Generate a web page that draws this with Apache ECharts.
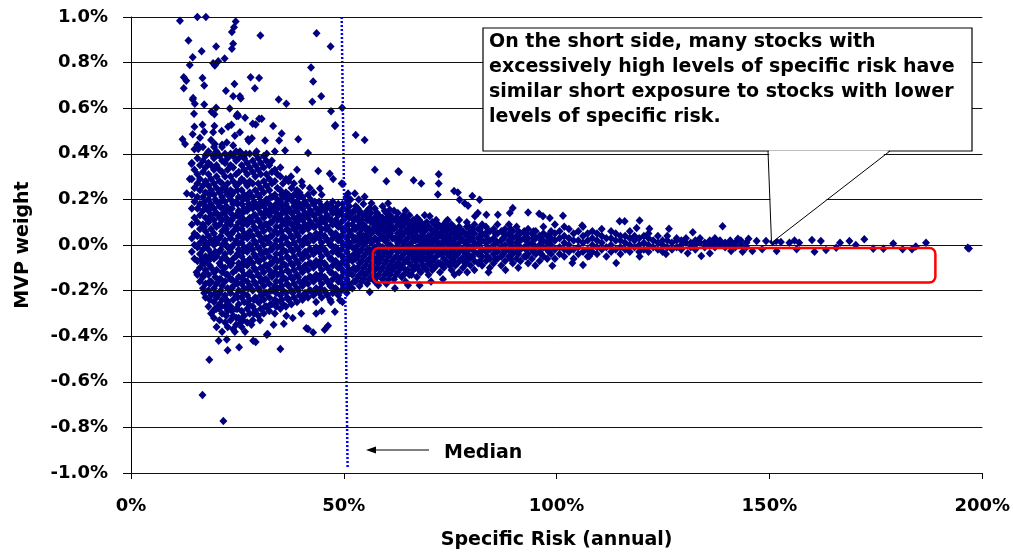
<!DOCTYPE html>
<html>
<head>
<meta charset="utf-8">
<script src="https://cdn.jsdelivr.net/npm/echarts@6/dist/echarts.min.js"></script>
<style>
  html, body { margin: 0; padding: 0; background: #fff; }
  #chart { width: 1013px; height: 555px; }
</style>
</head>
<body>
<div id="chart"></div>
<script>
// Specific risk (annual, %) vs. minimum-variance portfolio weight (%)

// Low-risk cluster: [specific risk, [weights...]]
const clusterLow = [
  [14.3, [-0.03, 0.03, 0.09, 0.16, 0.22, 0.29, 0.36]],
  [14.9, [-0.06, 0.00, 0.05, 0.12, 0.19, 0.25, 0.33, 0.42]],
  [15.6, [-0.13, -0.07, -0.01, 0.04, 0.10, 0.16, 0.21, 0.27, 0.31, 0.38, 0.44]],
  [16.2, [-0.16, -0.10, -0.04, 0.01, 0.07, 0.13, 0.18, 0.24, 0.29, 0.35, 0.47]],
  [16.9, [-0.19, -0.14, -0.08, -0.02, 0.03, 0.09, 0.15, 0.21, 0.26, 0.32, 0.37, 0.43]],
  [17.5, [-0.23, -0.17, -0.11, -0.05, 0.00, 0.06, 0.12, 0.17, 0.23, 0.28, 0.34, 0.39]],
  [18.2, [-0.27, -0.20, -0.13, -0.07, -0.02, 0.04, 0.10, 0.15, 0.20, 0.26, 0.31, 0.36, 0.41]],
  [18.8, [-0.30, -0.22, -0.16, -0.10, -0.04, 0.02, 0.07, 0.13, 0.18, 0.24, 0.29, 0.35, 0.46]],
  [19.5, [-0.32, -0.25, -0.19, -0.12, -0.06, 0.00, 0.05, 0.11, 0.16, 0.22, 0.27, 0.33, 0.38, 0.43]],
  [20.1, [-0.36, -0.28, -0.23, -0.17, -0.11, -0.05, 0.01, 0.08, 0.14, 0.19, 0.25, 0.30, 0.35, 0.41]],
  [20.8, [-0.33, -0.26, -0.21, -0.15, -0.08, -0.03, 0.03, 0.09, 0.12, 0.17, 0.23, 0.28, 0.33, 0.39]],
  [21.4, [-0.38, -0.30, -0.24, -0.18, -0.12, -0.06, 0.00, 0.06, 0.11, 0.16, 0.21, 0.27, 0.32, 0.37, 0.44]],
  [22.1, [-0.34, -0.27, -0.22, -0.16, -0.10, -0.04, 0.02, 0.08, 0.14, 0.19, 0.25, 0.30, 0.36, 0.40]],
  [22.7, [-0.36, -0.29, -0.25, -0.19, -0.13, -0.07, -0.01, 0.05, 0.10, 0.16, 0.22, 0.27, 0.33, 0.38]],
  [23.4, [-0.33, -0.27, -0.21, -0.15, -0.09, -0.03, 0.03, 0.09, 0.14, 0.20, 0.24, 0.30, 0.35, 0.40]],
  [24.0, [-0.37, -0.31, -0.24, -0.18, -0.12, -0.06, 0.00, 0.06, 0.12, 0.18, 0.23, 0.28, 0.34, 0.39]],
  [24.7, [-0.35, -0.28, -0.22, -0.16, -0.11, -0.05, 0.02, 0.08, 0.13, 0.19, 0.26, 0.31, 0.37, 0.41]],
  [25.3, [-0.32, -0.26, -0.20, -0.14, -0.08, -0.02, 0.04, 0.10, 0.15, 0.21, 0.27, 0.32, 0.38]],
  [26.0, [-0.36, -0.29, -0.23, -0.17, -0.11, -0.05, 0.01, 0.07, 0.12, 0.18, 0.24, 0.29, 0.35, 0.40]],
  [26.6, [-0.31, -0.25, -0.19, -0.13, -0.07, -0.01, 0.05, 0.11, 0.16, 0.22, 0.28, 0.33, 0.38]],
  [27.3, [-0.34, -0.28, -0.22, -0.16, -0.09, -0.03, 0.03, 0.09, 0.15, 0.20, 0.26, 0.31, 0.36]],
  [27.9, [-0.30, -0.24, -0.18, -0.12, -0.06, 0.00, 0.06, 0.12, 0.17, 0.23, 0.28, 0.34, 0.40]],
  [28.6, [-0.33, -0.27, -0.20, -0.14, -0.08, -0.02, 0.04, 0.10, 0.16, 0.21, 0.27, 0.32, 0.37]],
  [29.2, [-0.29, -0.23, -0.17, -0.11, -0.05, 0.01, 0.07, 0.13, 0.18, 0.24, 0.30, 0.35, 0.40]],
  [29.9, [-0.31, -0.25, -0.19, -0.13, -0.07, -0.01, 0.05, 0.11, 0.16, 0.22, 0.27, 0.33, 0.38]],
  [30.5, [-0.28, -0.22, -0.16, -0.10, -0.04, 0.02, 0.08, 0.14, 0.19, 0.25, 0.31, 0.36]],
  [31.2, [-0.30, -0.24, -0.18, -0.12, -0.06, 0.00, 0.06, 0.12, 0.17, 0.23, 0.28, 0.34, 0.39]],
  [31.8, [-0.27, -0.21, -0.15, -0.09, -0.03, 0.03, 0.09, 0.15, 0.20, 0.26, 0.31, 0.37]],
  [32.5, [-0.29, -0.23, -0.17, -0.11, -0.05, 0.01, 0.07, 0.13, 0.18, 0.24, 0.29, 0.35]],
  [33.1, [-0.26, -0.20, -0.14, -0.08, -0.02, 0.04, 0.10, 0.15, 0.21, 0.27, 0.32, 0.37]],
  [33.8, [-0.30, -0.24, -0.18, -0.12, -0.06, 0.00, 0.06, 0.12, 0.17, 0.22, 0.28, 0.33]],
  [34.4, [-0.25, -0.19, -0.13, -0.07, -0.01, 0.05, 0.11, 0.16, 0.20, 0.25, 0.31]],
  [35.1, [-0.28, -0.22, -0.16, -0.10, -0.04, 0.02, 0.08, 0.13, 0.19, 0.24, 0.30, 0.34]],
  [35.7, [-0.26, -0.20, -0.14, -0.08, -0.02, 0.04, 0.10, 0.15, 0.21, 0.27]],
  [36.4, [-0.27, -0.21, -0.15, -0.09, -0.03, 0.03, 0.09, 0.14, 0.18, 0.23, 0.29]],
  [37.0, [-0.24, -0.18, -0.12, -0.06, 0.00, 0.06, 0.11, 0.16, 0.22, 0.28]],
  [37.7, [-0.26, -0.20, -0.14, -0.08, -0.02, 0.04, 0.09, 0.14, 0.20, 0.25]],
  [38.3, [-0.23, -0.17, -0.11, -0.05, 0.01, 0.07, 0.12, 0.17, 0.22, 0.27]],
  [39.0, [-0.25, -0.19, -0.13, -0.07, -0.01, 0.05, 0.10, 0.15, 0.19, 0.24]],
  [39.6, [-0.22, -0.16, -0.10, -0.04, 0.02, 0.08, 0.13, 0.18, 0.23]],
  [40.3, [-0.24, -0.18, -0.12, -0.06, 0.00, 0.06, 0.11, 0.16, 0.21, 0.26]],
  [40.9, [-0.21, -0.15, -0.09, -0.03, 0.03, 0.09, 0.14, 0.19]],
  [41.6, [-0.23, -0.17, -0.11, -0.05, 0.01, 0.07, 0.12, 0.17, 0.22]],
  [42.2, [-0.20, -0.14, -0.08, -0.02, 0.04, 0.10, 0.15, 0.20]],
  [42.9, [-0.22, -0.16, -0.10, -0.04, 0.02, 0.08, 0.13, 0.18, 0.23]],
  [43.5, [-0.25, -0.19, -0.13, -0.07, -0.01, 0.05, 0.11, 0.16]],
  [44.2, [-0.21, -0.15, -0.09, -0.03, 0.03, 0.09, 0.14, 0.19]],
  [44.8, [-0.23, -0.17, -0.11, -0.05, 0.01, 0.07, 0.12, 0.17, 0.22]],
  [45.5, [-0.20, -0.14, -0.08, -0.02, 0.04, 0.10, 0.15]],
  [46.1, [-0.22, -0.16, -0.10, -0.04, 0.02, 0.08, 0.13, 0.18]],
  [46.8, [-0.24, -0.18, -0.12, -0.06, 0.00, 0.06, 0.11, 0.16]],
  [47.4, [-0.21, -0.15, -0.09, -0.03, 0.03, 0.09, 0.14, 0.19]],
  [48.1, [-0.19, -0.13, -0.07, -0.01, 0.05, 0.11, 0.16]],
  [48.7, [-0.22, -0.16, -0.10, -0.04, 0.02, 0.08, 0.13, 0.18]],
  [49.4, [-0.20, -0.14, -0.08, -0.02, 0.04, 0.10, 0.15]],
  [50.0, [-0.18, -0.12, -0.06, 0.00, 0.06, 0.11, 0.16]],
  [50.7, [-0.21, -0.15, -0.09, -0.03, 0.03, 0.08, 0.13, 0.19]],
  [51.3, [-0.17, -0.11, -0.05, 0.01, 0.06, 0.12, 0.17]],
  [52.0, [-0.19, -0.13, -0.07, -0.01, 0.04, 0.09, 0.14]]
];

// Heart of the cluster and the start of the band, between the columns above
const clusterCore = [
  [17.2, [-0.21, -0.13, -0.08, 0.02, 0.08, 0.19]],
  [18.5, [-0.24, -0.17, -0.09, -0.05, 0.01, 0.12, 0.17, 0.22]],
  [19.8, [-0.28, -0.21, -0.14, -0.03, 0.03, 0.09, 0.14, 0.20]],
  [21.1, [-0.27, -0.20, -0.15, -0.09, -0.02, 0.04, 0.13, 0.19, 0.24]],
  [22.4, [-0.31, -0.24, -0.13, -0.06, 0.00, 0.07, 0.12, 0.17, 0.23]],
  [23.7, [-0.29, -0.19, -0.15, -0.08, -0.01, 0.05, 0.11, 0.16, 0.22]],
  [25.0, [-0.28, -0.23, -0.17, -0.10, -0.04, 0.01, 0.07, 0.13, 0.18, 0.24]],
  [26.3, [-0.33, -0.21, -0.15, -0.09, -0.03, 0.03, 0.09, 0.14, 0.20]],
  [27.6, [-0.26, -0.19, -0.13, -0.07, -0.01, 0.04, 0.11, 0.18, 0.22]],
  [28.9, [-0.30, -0.24, -0.16, -0.10, -0.04, 0.02, 0.08, 0.13, 0.19]],
  [30.2, [-0.25, -0.20, -0.14, -0.07, -0.02, 0.04, 0.10, 0.17, 0.21]],
  [31.5, [-0.27, -0.21, -0.15, -0.09, -0.03, 0.03, 0.09, 0.14, 0.19]],
  [32.8, [-0.26, -0.20, -0.13, -0.08, -0.02, 0.04, 0.10, 0.16, 0.21]],
  [34.1, [-0.27, -0.21, -0.16, -0.10, -0.04, 0.02, 0.08, 0.14, 0.18]],
  [35.4, [-0.24, -0.18, -0.12, -0.06, 0.00, 0.06, 0.11, 0.17, 0.22]],
  [36.7, [-0.23, -0.17, -0.11, -0.05, 0.01, 0.07, 0.12, 0.16, 0.20]],
  [38.0, [-0.21, -0.15, -0.09, -0.03, 0.03, 0.09, 0.14, 0.19]],
  [39.3, [-0.20, -0.14, -0.08, -0.02, 0.04, 0.08, 0.12, 0.17, 0.21]],
  [40.6, [-0.22, -0.16, -0.10, -0.04, 0.02, 0.08, 0.13, 0.18]],
  [41.9, [-0.20, -0.14, -0.08, -0.02, 0.04, 0.09, 0.14]],
  [43.2, [-0.21, -0.15, -0.09, -0.03, 0.03, 0.08, 0.13, 0.19]],
  [44.5, [-0.19, -0.13, -0.07, -0.01, 0.05, 0.10, 0.15]],
  [45.8, [-0.21, -0.15, -0.09, -0.03, 0.03, 0.07, 0.12, 0.16]],
  [47.1, [-0.18, -0.12, -0.06, 0.00, 0.05, 0.11, 0.17]],
  [48.4, [-0.20, -0.14, -0.08, -0.02, 0.04, 0.09, 0.14]],
  [49.7, [-0.17, -0.11, -0.05, 0.01, 0.07, 0.13, 0.18]],
  [51.0, [-0.19, -0.13, -0.07, -0.01, 0.04, 0.09, 0.15]],
  [52.4, [-0.16, -0.10, -0.04, 0.02, 0.07, 0.11, 0.15]],
  [53.3, [-0.14, -0.10, -0.05, 0.00, 0.03, 0.08, 0.12, 0.16]],
  [54.2, [-0.16, -0.12, -0.07, -0.02, 0.02, 0.07, 0.11]],
  [55.1, [-0.13, -0.09, -0.04, 0.01, 0.04, 0.08, 0.13]],
  [56.0, [-0.15, -0.11, -0.06, -0.02, 0.03, 0.07, 0.12, 0.16]],
  [56.9, [-0.13, -0.08, -0.03, 0.02, 0.06, 0.10]],
  [57.8, [-0.14, -0.10, -0.06, -0.02, 0.02, 0.07, 0.11, 0.14]],
  [58.7, [-0.11, -0.06, -0.02, 0.03, 0.07, 0.11]],
  [59.6, [-0.13, -0.08, -0.03, 0.02, 0.06, 0.10, 0.15]],
  [60.5, [-0.15, -0.10, -0.05, 0.00, 0.04, 0.08, 0.12]],
  [61.4, [-0.11, -0.07, -0.02, 0.03, 0.07, 0.11]],
  [62.3, [-0.13, -0.09, -0.05, -0.01, 0.03, 0.08, 0.12]],
  [63.2, [-0.10, -0.06, -0.02, 0.02, 0.06, 0.10]],
  [64.1, [-0.13, -0.08, -0.04, 0.01, 0.05, 0.09, 0.13]],
  [65.0, [-0.11, -0.06, -0.02, 0.03, 0.07, 0.11]],
  [65.9, [-0.13, -0.09, -0.04, 0.01, 0.05, 0.09]],
  [66.8, [-0.10, -0.07, -0.03, 0.02, 0.06, 0.10]],
  [67.7, [-0.11, -0.05, -0.01, 0.03, 0.08, 0.11]],
  [68.6, [-0.09, -0.04, 0.00, 0.04, 0.08]],
  [69.5, [-0.11, -0.06, -0.02, 0.02, 0.07, 0.10]],
  [70.4, [-0.09, -0.05, -0.01, 0.03, 0.07]],
  [71.3, [-0.10, -0.06, -0.02, 0.02, 0.05, 0.09]],
  [72.2, [-0.08, -0.03, 0.01, 0.05, 0.09]],
  [73.1, [-0.09, -0.04, 0.00, 0.04, 0.07]],
  [74.0, [-0.07, -0.03, 0.02, 0.06, 0.09]],
  [74.9, [-0.09, -0.05, -0.01, 0.03, 0.07]],
  [75.8, [-0.07, -0.03, 0.01, 0.05, 0.08]],
  [76.7, [-0.08, -0.04, 0.00, 0.04, 0.06]],
  [77.6, [-0.06, -0.02, 0.03, 0.06]],
  [78.5, [-0.08, -0.04, 0.01, 0.05]],
  [79.4, [-0.06, -0.02, 0.02, 0.05, 0.08]],
  [80.3, [-0.05, -0.01, 0.03, 0.07]],
  [82.0, [-0.07, -0.03, 0.01, 0.04, 0.07]],
  [83.8, [-0.05, -0.01, 0.02, 0.06]],
  [85.6, [-0.06, -0.02, 0.02, 0.05]],
  [87.4, [-0.04, -0.01, 0.03, 0.06]],
  [89.2, [-0.06, -0.02, 0.01, 0.04, 0.07]],
  [91.0, [-0.04, 0.00, 0.03, 0.06]],
  [92.8, [-0.05, -0.02, 0.02, 0.05]],
  [94.6, [-0.03, 0.00, 0.03, 0.06]],
  [96.4, [-0.04, -0.01, 0.02, 0.04]],
  [98.2, [-0.03, 0.01, 0.04]]
];

// Band of mid-risk stocks (53% - 100%)
const bandMid = [
  [52.8, [-0.16, -0.11, -0.06, -0.02, 0.03, 0.07, 0.12, 0.17]],
  [53.7, [-0.18, -0.13, -0.08, -0.03, 0.01, 0.05, 0.10, 0.14]],
  [54.6, [-0.15, -0.10, -0.05, 0.00, 0.04, 0.09, 0.13, 0.18]],
  [55.5, [-0.17, -0.12, -0.07, -0.02, 0.02, 0.06, 0.11, 0.15]],
  [56.4, [-0.14, -0.09, -0.04, 0.01, 0.05, 0.10, 0.14]],
  [57.3, [-0.16, -0.11, -0.06, -0.01, 0.03, 0.08, 0.12, 0.16]],
  [58.2, [-0.13, -0.08, -0.04, 0.00, 0.05, 0.09, 0.13]],
  [59.1, [-0.15, -0.10, -0.05, -0.01, 0.04, 0.08, 0.12, 0.17]],
  [60.0, [-0.17, -0.12, -0.07, -0.03, 0.02, 0.06, 0.10, 0.14]],
  [60.9, [-0.13, -0.09, -0.04, 0.00, 0.05, 0.09, 0.13]],
  [61.8, [-0.15, -0.10, -0.06, -0.02, 0.03, 0.07, 0.11, 0.15]],
  [62.7, [-0.12, -0.08, -0.03, 0.01, 0.05, 0.10, 0.14]],
  [63.6, [-0.14, -0.10, -0.05, -0.01, 0.04, 0.08, 0.12]],
  [64.5, [-0.16, -0.11, -0.07, -0.02, 0.02, 0.06, 0.11, 0.15]],
  [65.4, [-0.13, -0.08, -0.04, 0.00, 0.05, 0.09, 0.13]],
  [66.3, [-0.11, -0.06, -0.02, 0.03, 0.07, 0.11]],
  [67.2, [-0.14, -0.09, -0.05, -0.01, 0.04, 0.08, 0.12]],
  [68.1, [-0.12, -0.07, -0.03, 0.01, 0.06, 0.10]],
  [69.0, [-0.10, -0.06, -0.02, 0.02, 0.06, 0.09, 0.13]],
  [69.9, [-0.13, -0.08, -0.04, 0.00, 0.04, 0.08]],
  [70.8, [-0.11, -0.07, -0.03, 0.01, 0.05, 0.10]],
  [71.7, [-0.09, -0.05, -0.01, 0.03, 0.07, 0.11]],
  [72.6, [-0.12, -0.08, -0.04, 0.00, 0.04, 0.08]],
  [73.5, [-0.10, -0.06, -0.02, 0.02, 0.06, 0.09]],
  [74.4, [-0.08, -0.04, 0.00, 0.04, 0.08, 0.11]],
  [75.3, [-0.11, -0.07, -0.03, 0.01, 0.05, 0.09]],
  [76.2, [-0.09, -0.05, -0.01, 0.03, 0.07]],
  [77.1, [-0.12, -0.07, -0.03, 0.01, 0.04, 0.08, 0.11]],
  [78.0, [-0.10, -0.06, -0.02, 0.02, 0.06]],
  [78.9, [-0.08, -0.04, 0.00, 0.04, 0.08, 0.10]],
  [79.8, [-0.09, -0.05, -0.01, 0.03, 0.06]],
  [80.7, [-0.11, -0.07, -0.03, 0.01, 0.05, 0.09]],
  [81.6, [-0.08, -0.04, 0.00, 0.03, 0.07]],
  [82.5, [-0.09, -0.05, -0.02, 0.02, 0.05, 0.09]],
  [83.4, [-0.07, -0.03, 0.01, 0.04, 0.08]],
  [84.3, [-0.10, -0.06, -0.02, 0.02, 0.06]],
  [85.2, [-0.08, -0.04, 0.00, 0.03, 0.07]],
  [86.1, [-0.06, -0.03, 0.01, 0.05, 0.09]],
  [87.0, [-0.09, -0.05, -0.01, 0.02, 0.06]],
  [87.9, [-0.07, -0.03, 0.00, 0.04, 0.07]],
  [88.8, [-0.05, -0.02, 0.02, 0.05, 0.09]],
  [89.7, [-0.08, -0.04, -0.01, 0.03, 0.06]],
  [90.6, [-0.06, -0.03, 0.01, 0.04, 0.08]],
  [91.5, [-0.07, -0.02, 0.02, 0.05]],
  [92.4, [-0.05, -0.01, 0.03, 0.06]],
  [93.3, [-0.08, -0.04, 0.00, 0.03, 0.07]],
  [94.2, [-0.06, -0.02, 0.01, 0.05]],
  [95.1, [-0.04, -0.01, 0.03, 0.06]],
  [96.0, [-0.07, -0.03, 0.00, 0.04]],
  [96.9, [-0.05, -0.01, 0.02, 0.05, 0.08]],
  [97.8, [-0.06, -0.02, 0.01, 0.04]],
  [98.7, [-0.04, 0.00, 0.03, 0.06]]
];

// Band of high-risk stocks (100% - 145%)
const bandHigh = [
  [99.6, [-0.06, -0.02, 0.02, 0.05, 0.09]],
  [100.7, [-0.04, -0.01, 0.03, 0.06]],
  [101.8, [-0.05, -0.02, 0.01, 0.04, 0.08]],
  [102.9, [-0.03, 0.00, 0.03, 0.07]],
  [104.0, [-0.06, -0.02, 0.02, 0.05]],
  [105.1, [-0.04, -0.01, 0.02, 0.06]],
  [106.2, [-0.03, 0.01, 0.04, 0.08]],
  [107.3, [-0.05, -0.02, 0.02, 0.05]],
  [108.4, [-0.03, 0.00, 0.03, 0.06]],
  [109.5, [-0.04, -0.01, 0.02, 0.05]],
  [110.6, [-0.02, 0.01, 0.04, 0.07]],
  [111.7, [-0.05, -0.01, 0.03]],
  [112.8, [-0.03, 0.00, 0.03, 0.06]],
  [113.9, [-0.02, 0.02, 0.05]],
  [115.0, [-0.04, -0.01, 0.02, 0.04]],
  [116.1, [-0.02, 0.01, 0.04]],
  [117.2, [-0.03, 0.00, 0.03, 0.06]],
  [118.3, [-0.01, 0.02, 0.04]],
  [119.4, [-0.03, 0.00, 0.03]],
  [120.5, [-0.02, 0.01, 0.04]],
  [121.6, [-0.03, 0.00, 0.03, 0.05]],
  [122.7, [-0.01, 0.02]],
  [123.8, [-0.02, 0.01, 0.04]],
  [124.9, [-0.03, 0.00, 0.02]],
  [126.0, [-0.01, 0.02, 0.04]],
  [127.1, [-0.02, 0.01]],
  [128.2, [-0.01, 0.02, 0.03]],
  [129.3, [-0.02, 0.00, 0.02]],
  [130.4, [0.01, 0.03]],
  [131.5, [-0.01, 0.01]],
  [132.6, [-0.02, 0.00, 0.02]],
  [133.7, [0.01, 0.03]],
  [134.8, [-0.01, 0.01]],
  [136.0, [0.00, 0.02]],
  [137.2, [-0.01, 0.01, 0.03]],
  [138.4, [0.00, 0.02]],
  [139.6, [-0.01, 0.01]],
  [140.8, [0.00, 0.02]],
  [142.0, [-0.01, 0.01]],
  [143.3, [0.00, 0.02]],
  [144.6, [-0.01, 0.01]]
];

// Isolated stocks with large long weights
const scatterAbove = [
  [11.5, 0.984], [15.6, 1.0], [17.6, 1.0], [13.5, 0.897], [16.6, 0.85], [14.5, 0.824],
  [13.8, 0.79], [20.0, 0.871], [19.3, 0.797], [20.5, 0.806], [22.0, 0.818], [19.7, 0.787],
  [24.6, 0.98], [24.2, 0.955], [23.7, 0.934], [24.0, 0.883], [23.7, 0.861], [30.4, 0.919],
  [43.6, 0.929], [46.9, 0.871], [42.3, 0.778], [42.8, 0.717], [44.7, 0.652], [42.6, 0.628],
  [47.0, 0.587], [48.0, 0.525], [49.6, 0.602], [12.4, 0.736], [13.0, 0.72], [12.4, 0.688],
  [16.8, 0.732], [17.2, 0.70], [14.6, 0.645], [14.5, 0.638], [15.0, 0.619], [17.2, 0.616],
  [14.8, 0.576], [20.0, 0.602], [18.9, 0.584], [19.6, 0.573], [22.3, 0.677], [24.3, 0.706],
  [24.0, 0.652], [25.6, 0.652], [25.8, 0.642], [23.2, 0.599], [28.1, 0.736], [30.1, 0.732],
  [29.1, 0.688], [34.7, 0.638], [36.5, 0.62], [24.8, 0.566], [25.2, 0.566], [26.8, 0.558],
  [30.1, 0.554], [30.7, 0.554], [28.6, 0.532], [29.3, 0.529], [33.4, 0.522], [35.4, 0.489],
  [39.3, 0.464], [52.8, 0.482], [54.9, 0.46], [41.6, 0.403], [44.0, 0.325], [46.7, 0.313],
  [49.8, 0.267], [12.1, 0.464], [12.7, 0.443], [14.9, 0.519], [16.8, 0.527], [17.2, 0.497],
  [19.6, 0.522], [19.3, 0.494], [14.5, 0.486], [15.8, 0.421], [17.8, 0.40], [19.7, 0.443],
  [21.3, 0.50], [22.8, 0.519], [23.6, 0.527], [25.0, 0.573], [24.4, 0.479], [25.6, 0.494],
  [27.5, 0.464], [27.7, 0.455], [28.4, 0.468], [31.5, 0.458], [34.8, 0.458], [36.2, 0.414],
  [24.0, 0.436], [22.5, 0.45], [21.4, 0.43], [19.2, 0.393], [20.4, 0.40], [25.6, 0.41],
  [27.0, 0.40], [29.5, 0.41], [31.9, 0.40], [33.8, 0.41], [13.8, 0.29], [13.1, 0.226],
  [14.2, 0.356], [47.9, 0.522], [47.5, 0.29], [49.5, 0.27], [51.0, 0.226], [52.6, 0.226],
  [53.5, 0.2], [44.4, 0.248], [42.0, 0.25], [40.1, 0.277], [39.0, 0.33], [37.6, 0.30]
];

// Isolated stocks with large short weights
const scatterBelow = [
  [19.3, -0.29], [20.7, -0.278], [20.6, -0.42], [22.5, -0.415], [22.7, -0.462], [25.4, -0.449],
  [28.7, -0.42], [29.3, -0.425], [18.4, -0.503], [35.1, -0.456], [31.9, -0.394], [41.2, -0.365],
  [42.8, -0.384], [45.5, -0.372], [46.3, -0.354], [47.9, -0.293], [49.1, -0.242], [16.8, -0.658],
  [21.7, -0.772], [24.8, -0.32], [25.6, -0.343], [24.4, -0.38], [26.8, -0.38], [28.3, -0.35],
  [30.3, -0.33], [32.1, -0.39], [41.6, -0.368], [49.7, -0.25], [18.5, -0.16], [16.6, -0.06],
  [15.4, -0.12], [17.0, -0.13], [20.4, -0.22], [38.0, -0.32], [36.5, -0.31], [40.0, -0.30],
  [43.5, -0.30], [44.8, -0.29], [47.0, -0.25], [33.5, -0.35], [35.9, -0.345]
];

// Scattered stocks beyond 50% specific risk
const scatterTail = [
  [57.3, 0.33], [63.0, 0.32], [60.0, 0.28], [62.8, 0.323], [66.4, 0.284], [68.2, 0.27],
  [72.3, 0.31], [72.3, 0.27], [72.1, 0.222], [75.9, 0.237], [76.8, 0.23], [77.2, 0.198],
  [78.4, 0.183], [79.2, 0.172], [80.2, 0.215], [81.9, 0.198], [89.7, 0.162], [93.3, 0.143],
  [95.9, 0.137], [96.8, 0.126], [98.4, 0.118], [54.9, 0.212], [56.5, 0.183], [60.4, 0.183],
  [60.8, 0.155], [60.4, 0.121], [57.7, 0.14], [53.8, 0.147], [50.6, 0.21], [51.6, 0.2],
  [70.2, 0.126], [64.6, 0.11], [74.1, 0.104], [81.5, 0.14], [80.8, 0.126], [83.5, 0.133],
  [86.2, 0.133], [89.0, 0.14],
  [65.1, -0.177], [58.1, -0.177], [56.1, -0.206], [73.3, -0.15], [67.8, -0.177], [62.0, -0.19],
  [70.5, -0.16], [76.0, -0.13], [79.0, -0.12], [84.0, -0.12], [88.0, -0.11], [91.0, -0.10],
  [95.0, -0.09],
  [101.5, 0.128], [106.0, 0.085], [114.8, 0.104], [116.0, 0.104], [119.5, 0.108], [118.8, 0.075],
  [121.8, 0.071], [126.4, 0.071], [139.0, 0.082], [132.0, 0.056], [142.6, 0.027], [145.1, 0.027],
  [147.0, 0.017], [149.2, 0.017],
  [99.0, -0.091], [106.2, -0.088], [114.0, -0.079], [103.7, -0.079], [107.7, -0.048], [119.5, -0.05],
  [125.7, -0.04], [130.8, -0.036], [134.0, -0.048], [136.0, -0.036], [141.0, -0.026], [143.7, -0.03],
  [146.0, -0.026],
  [150.8, 0.013], [151.6, 0.017], [152.7, 0.013], [151.7, -0.026], [154.7, 0.01], [155.9, 0.02],
  [157.0, 0.01], [156.4, -0.019], [160.0, 0.022], [162.1, 0.017], [160.6, -0.03], [163.3, -0.022],
  [165.7, -0.012], [166.6, 0.01], [168.8, 0.017], [170.3, 0.0], [172.3, 0.025], [174.4, -0.016],
  [176.8, -0.016], [179.1, 0.007], [181.3, -0.019], [183.5, -0.019], [184.4, -0.007], [186.8, 0.01],
  [196.6, -0.012], [196.9, -0.015], [148.3, -0.019]
];

// Median specific risk marker (top and bottom of the dotted line)
const medianLine = [[49.5, 1.0], [50.9, -0.98]];

// Axis ticks
const xTickValues = [0, 50, 100, 150, 200];
const yTickValues = [-1.0, -0.8, -0.6, -0.4, -0.2, 0.0, 0.2, 0.4, 0.6, 0.8, 1.0];

function expand(columns) {
  const out = [];
  columns.forEach(([x, ys]) => ys.forEach(y => out.push([x, y])));
  return out;
}

const points = [].concat(
  expand(clusterLow), expand(clusterCore), expand(bandMid), expand(bandHigh),
  scatterAbove, scatterBelow, scatterTail
);

const FONT = 'DejaVu Sans';
const chart = echarts.init(document.getElementById('chart'), null, { renderer: 'canvas' });

chart.setOption({
  animation: false,
  backgroundColor: '#fff',
  grid: { left: 131, right: 30, top: 17, bottom: 74, containLabel: false },
  xAxis: {
    type: 'value',
    min: xTickValues[0], max: xTickValues[xTickValues.length - 1],
    interval: xTickValues[1] - xTickValues[0],
    name: 'Specific Risk (annual)', nameLocation: 'middle', nameGap: 58,
    nameTextStyle: { fontFamily: FONT, fontWeight: 'bold', fontSize: 19, color: '#000' },
    axisLine: { show: true, onZero: false, lineStyle: { color: '#000', width: 1 } },
    axisTick: { show: true, length: 6, lineStyle: { color: '#000' } },
    axisLabel: { formatter: v => v + '%', margin: 24, fontFamily: FONT, fontWeight: 'bold', fontSize: 18, color: '#000' },
    splitLine: { show: false }
  },
  yAxis: {
    type: 'value',
    min: yTickValues[0], max: yTickValues[yTickValues.length - 1],
    interval: 0.2,
    name: 'MVP weight', nameLocation: 'middle', nameGap: 98,
    nameTextStyle: { fontFamily: FONT, fontWeight: 'bold', fontSize: 19, color: '#000' },
    axisLine: { show: true, onZero: false, lineStyle: { color: '#000', width: 1 } },
    axisTick: { show: true, length: 8, lineStyle: { color: '#000' } },
    axisLabel: { formatter: v => v.toFixed(1) + '%', margin: 23, fontFamily: FONT, fontWeight: 'bold', fontSize: 18, color: '#000' },
    splitLine: { show: true, lineStyle: { color: '#111', width: 1, type: 'solid' } }
  },
  series: [
    {
      // horizontal gridlines at each y tick, kept beneath the markers
      type: 'scatter',
      data: [],
      silent: true,
      z: 1,
      markLine: {
        silent: true,
        symbol: ['none', 'none'],
        label: { show: false },
        lineStyle: { color: '#111', width: 1, type: 'solid' },
        data: yTickValues.map(v => ({ yAxis: v }))
      }
    },
    {
      type: 'scatter',
      data: points,
      symbol: 'diamond',
      symbolSize: [8, 8.5],
      itemStyle: { color: '#000080', opacity: 1 },
      z: 2
    },
    {
      type: 'line',
      data: medianLine,
      symbol: 'none',
      lineStyle: { color: '#0000ff', width: 2.5, type: [2, 2] },
      z: 3
    }
  ]
});

function drawAnnotations() {
  const boxA = chart.convertToPixel({ gridIndex: 0 }, [56.8, -0.013]);
  const boxB = chart.convertToPixel({ gridIndex: 0 }, [189.0, -0.165]);
  const tip = chart.convertToPixel({ gridIndex: 0 }, [150.5, 0.01]);
  chart.setOption({
    graphic: [
      {
        type: 'rect', z: 10,
        shape: { x: boxA[0], y: boxA[1], width: boxB[0] - boxA[0], height: boxB[1] - boxA[1], r: 6 },
        style: { fill: 'none', stroke: '#ff0000', lineWidth: 2.5 }
      },
      {
        type: 'rect', z: 11,
        shape: { x: 483, y: 28, width: 489, height: 123 },
        style: { fill: '#fff', stroke: '#000', lineWidth: 1.2 }
      },
      {
        type: 'polygon', z: 12,
        shape: { points: [[769, 150.4], [tip[0], tip[1]], [889, 150.4]] },
        style: { fill: '#fff', stroke: null }
      },
      {
        type: 'polyline', z: 13,
        shape: { points: [[768, 151], [tip[0], tip[1]], [890, 151]] },
        style: { stroke: '#000', lineWidth: 1, fill: null }
      },
      {
        type: 'text', z: 14, x: 489, y: 30,
        style: {
          text: 'On the short side, many stocks with\nexcessively high levels of specific risk have\nsimilar short exposure to stocks with lower\nlevels of specific risk.',
          font: 'bold 19px "DejaVu Sans"', fill: '#000', lineHeight: 25
        }
      },
      {
        type: 'line', z: 14,
        shape: { x1: 429, y1: 450, x2: 374, y2: 450 },
        style: { stroke: '#000', lineWidth: 1 }
      },
      {
        type: 'polygon', z: 14,
        shape: { points: [[366, 450], [376, 446.5], [376, 453.5]] },
        style: { fill: '#000' }
      },
      {
        type: 'text', z: 14, x: 444, y: 453,
        style: { text: 'Median', font: 'bold 19px "DejaVu Sans"', fill: '#000', verticalAlign: 'middle' }
      }
    ]
  });
}
drawAnnotations();
</script>
</body>
</html>
